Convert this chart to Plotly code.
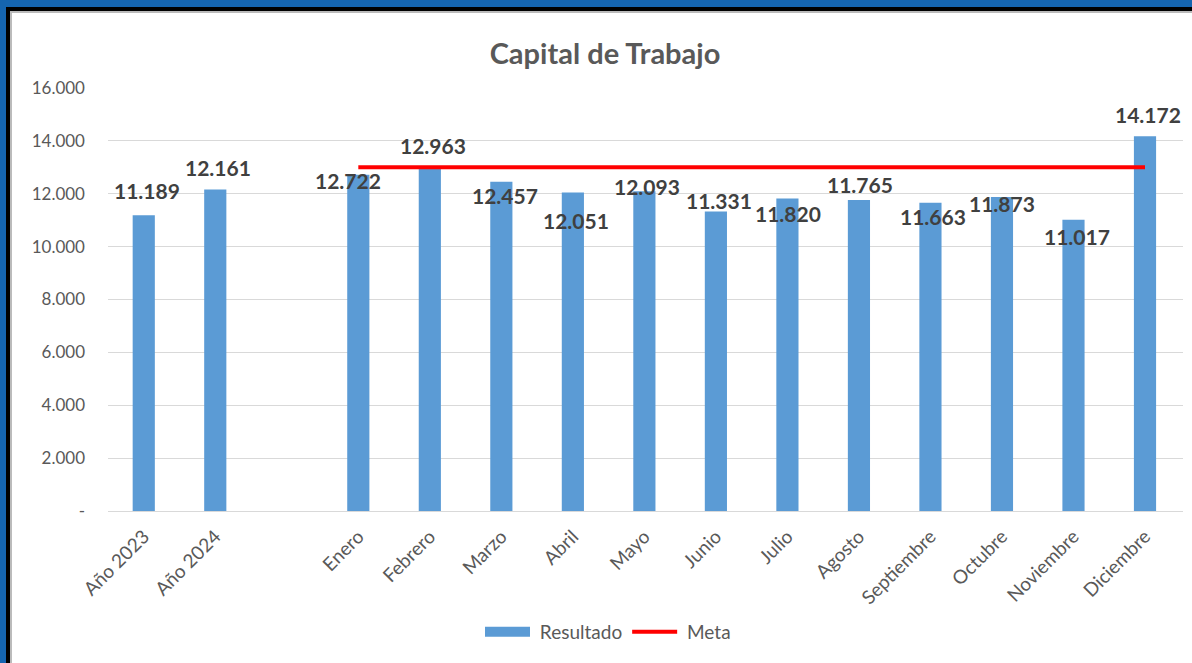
import plotly.graph_objects as go

# ---- data ----
categories = ["Año 2023", "Año 2024", " ", "Enero", "Febrero", "Marzo", "Abril", "Mayo",
              "Junio", "Julio", "Agosto", "Septiembre", "Octubre", "Noviembre", "Diciembre"]
resultado = [11189, 12161, None, 12722, 12963, 12457, 12051, 12093,
             11331, 11820, 11765, 11663, 11873, 11017, 14172]
meta_months = ["Enero", "Febrero", "Marzo", "Abril", "Mayo", "Junio", "Julio",
               "Agosto", "Septiembre", "Octubre", "Noviembre", "Diciembre"]
meta = [13000, 13000, 13000, 13000, 13000, 13000, 13000, 13000, 13000, 13000, 13000, 13000]
y_ticks = [0, 2000, 4000, 6000, 8000, 10000, 12000, 14000, 16000]
y_ticktext = ["-", "2.000", "4.000", "6.000", "8.000", "10.000", "12.000", "14.000", "16.000"]

# label offsets (pixels) to mimic the reference label placement
label_dx = [3, 3, 0, -10, 3, 4, 3, 3, 3, 1, 1, 3, 0, 4, 3]
label_dy = [25, 22, 0, -6, 23, -14, -28, 5, 11, -15, 15, -14, -6, -17, 22]

FONT = "Lato"
BLUE = "#5B9BD5"

def fmt(v):
    return f"{v:,}".replace(",", ".")

fig = go.Figure()
fig.add_trace(go.Bar(x=categories, y=resultado, name="Resultado",
                     marker=dict(color=BLUE, line=dict(width=0)),
                     hoverinfo="skip", showlegend=False))
# legend-only entry giving the wide rectangular swatch for "Resultado"
fig.add_trace(go.Scatter(x=[None], y=[None], name="\u00a0Resultado", mode="lines",
                         line=dict(color=BLUE, width=10), hoverinfo="skip"))
fig.add_trace(go.Scatter(x=meta_months, y=meta, name="\u00a0Meta", mode="lines",
                         line=dict(color="#FF0000", width=4), hoverinfo="skip"))

annotations = []
for c, v, dx, dy in zip(categories, resultado, label_dx, label_dy):
    if v is None:
        continue
    annotations.append(dict(x=c, y=v, xref="x", yref="y", text=fmt(v),
                            showarrow=False, xshift=dx, yshift=dy,
                            font=dict(family=FONT, size=21, color="#404040", weight="bold")))

# frame geometry (plot area px: x 108..1183, y 88..511)
L, R, T, B = 108, 1183, 88, 511
W, H = R - L, B - T
def px(x):
    return (x - L) / W
def py(y):
    return (B - y) / H

shapes = [
    dict(type="rect", xref="paper", yref="paper", x0=px(0), x1=px(1192), y0=py(7), y1=py(0),
         fillcolor="#1565B0", line=dict(width=0), layer="above"),
    dict(type="rect", xref="paper", yref="paper", x0=px(0), x1=px(6), y0=py(663), y1=py(0),
         fillcolor="#1565B0", line=dict(width=0), layer="above"),
    dict(type="rect", xref="paper", yref="paper", x0=px(6), x1=px(1192), y0=py(11), y1=py(7),
         fillcolor="#000000", line=dict(width=0), layer="above"),
    dict(type="rect", xref="paper", yref="paper", x0=px(6), x1=px(10), y0=py(663), y1=py(7),
         fillcolor="#000000", line=dict(width=0), layer="above"),
    dict(type="rect", xref="paper", yref="paper", x0=px(10), x1=px(1192), y0=py(13), y1=py(11),
         fillcolor="#BBBBBB", line=dict(width=0), layer="above"),
    dict(type="rect", xref="paper", yref="paper", x0=px(10), x1=px(12), y0=py(663), y1=py(11),
         fillcolor="#BBBBBB", line=dict(width=0), layer="above"),
]

fig.update_layout(
    width=1192, height=663,
    margin=dict(l=L, r=1192 - R, t=T, b=663 - B),
    paper_bgcolor="white", plot_bgcolor="white",
    font=dict(family=FONT, color="#595959"),
    title=dict(text="<b>Capital de Trabajo</b>", x=px(605), xref="paper", xanchor="center",
               y=1 - 54 / 663, yanchor="middle",
               font=dict(family=FONT, size=29, color="#595959")),
    bargap=0.69,
    showlegend=True,
    legend=dict(orientation="h", x=px(608), xanchor="center", y=py(632), yanchor="middle",
                font=dict(family=FONT, size=19, color="#595959"),
                itemwidth=45, tracegroupgap=0),
    annotations=annotations,
    shapes=shapes,
    xaxis=dict(type="category", categoryorder="array", categoryarray=categories,
               tickangle=-45, tickfont=dict(family=FONT, size=19, color="#595959"),
               showgrid=False, showline=True, linecolor="#D9D9D9", linewidth=1,
               ticks="", zeroline=False, ticklabelstandoff=6),
    yaxis=dict(range=[0, 16000], tickvals=y_ticks, ticktext=y_ticktext,
               tickfont=dict(family=FONT, size=17, color="#595959"),
               showgrid=True, gridcolor="#D9D9D9", gridwidth=1,
               zeroline=False, showline=False, ticks="", ticklabelstandoff=22),
)

fig.write_html("out.html", config={"displayModeBar": False},
               post_script="document.body.style.margin='0';document.body.style.overflow='hidden';")
